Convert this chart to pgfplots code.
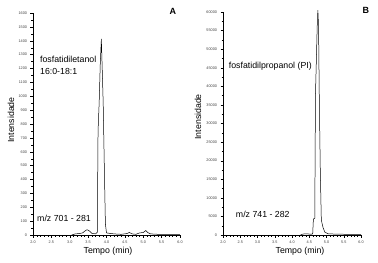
\documentclass[border=0pt]{standalone}
\usepackage{fontspec}
\setmainfont{Liberation Sans}
\usepackage{pgfplots}
\pgfplotsset{compat=1.18}
\begin{document}
\begin{tikzpicture}
\useasboundingbox (0,0) rectangle (378bp,263bp);
\pgfplotsset{
  chrom/.style={
    scale only axis,
    anchor=south west,
    axis x line*=bottom,
    axis y line*=left,
    xmin=2, xmax=6, ymin=0,
    xtick={2,2.5,...,6},
    minor x tick num=4,
    minor y tick num=1,
    tick align=outside,
    major tick length=2.5bp,
    minor tick length=1.5bp,
    every tick/.style={black, line width=0.3pt},
    axis line style={black, line width=0.4pt},
    /pgf/number format/assume math mode=true,
    tick label style={font=\fontsize{3.8}{4.2}\selectfont, text=black!75},
    xticklabel style={/pgf/number format/.cd, fixed, fixed zerofill, precision=1},
    yticklabel style={/pgf/number format/.cd, fixed, 1000 sep={}},
    xtick pos=left, ytick pos=left,
    xlabel={Tempo (min)},
    ylabel={Intensidade},
    label style={font=\fontsize{8.8}{10}\selectfont},
    clip=false,
  }
}
% Panel A
\begin{axis}[chrom,
  at={(33bp,28bp)}, width=147bp, height=222bp,
  ymax=1600, ytick={0,100,...,1600},
  xlabel style={at={(axis description cs:0.51,-0.072)}, anchor=center},
  ylabel style={at={(axis description cs:-0.15,0.518)}, anchor=center},
]
\addplot[black, line width=0.5pt] coordinates {
(3.05,0) (3.15,8) (3.25,10) (3.35,15) (3.42,30) (3.47,38) (3.53,30) (3.60,12)
(3.70,8) (3.75,20) (3.77,750) (3.80,950) (3.83,1230) (3.86,1413) (3.88,1230)
(3.91,950) (3.94,500) (3.97,80) (4.00,15) (4.2,8) (4.4,5) (4.55,10) (4.62,18)
(4.7,8) (4.8,5) (4.9,15) (5.0,18) (5.07,32) (5.12,18) (5.2,8) (5.4,5) (5.6,4) (6.0,4)
};
\node[anchor=north west, align=left, inner sep=0pt, font=\fontsize{8.8}{12}\selectfont]
  at (axis cs:2.19,1290) {fosfatidiletanol\\16:0-18:1};
\node[anchor=west, inner sep=0pt, font=\fontsize{8.8}{10}\selectfont]
  at (axis cs:2.11,120) {m/z 701 - 281};
\node[font=\fontsize{9}{10}\selectfont\bfseries] at (rel axis cs:0.952,1.005) {A};
\end{axis}
% Panel B
\begin{axis}[chrom,
  at={(223bp,28bp)}, width=138bp, height=223bp,
  ymax=60000, ytick={0,5000,...,60000},
  scaled y ticks=false,
  xlabel style={at={(axis description cs:0.558,-0.072)}, anchor=center},
  ylabel style={at={(axis description cs:-0.181,0.53)}, anchor=center},
]
\addplot[black, line width=0.5pt] coordinates {
(4.25,100) (4.35,300) (4.45,300) (4.55,200) (4.60,300) (4.62,4300) (4.66,4500)
(4.68,37700) (4.71,48500) (4.73,56000) (4.75,60500) (4.77,56000) (4.79,37700)
(4.82,17300) (4.85,4000) (4.90,2000) (4.95,800) (5.05,300) (5.5,200) (6.0,150)
};
\node[anchor=west, inner sep=0pt, font=\fontsize{8.8}{10}\selectfont]
  at (axis cs:2.165,45500) {fosfatidilpropanol (PI)};
\node[anchor=west, inner sep=0pt, font=\fontsize{8.8}{10}\selectfont]
  at (axis cs:2.37,5450) {m/z 741 - 282};
\node[font=\fontsize{9}{10}\selectfont\bfseries] at (rel axis cs:1.036,1.005) {B};
\end{axis}
\end{tikzpicture}
\end{document}
